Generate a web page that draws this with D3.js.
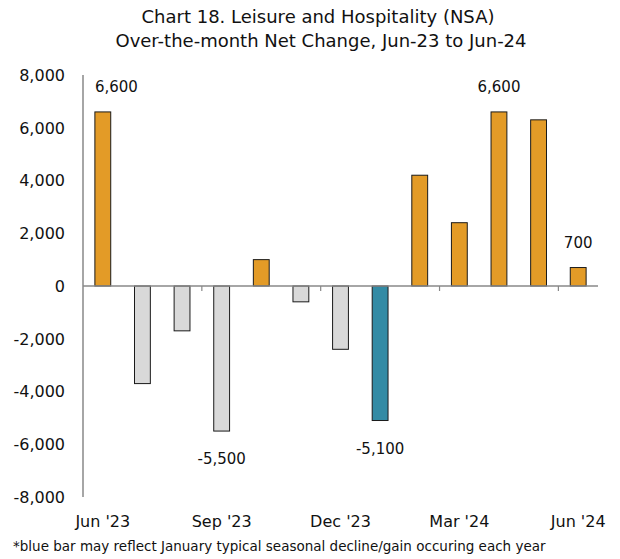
<!DOCTYPE html>
<html lang="en">
<head>
<meta charset="utf-8">
<title>Chart 18</title>
<script src="https://cdn.jsdelivr.net/npm/d3@7"></script>
<style>
  body { margin: 0; background: #fff; }
  svg text { font-family: "DejaVu Sans", sans-serif; fill: #111; }
</style>
</head>
<body>
<script>
// data
var months = ["Jun '23", "Jul '23", "Aug '23", "Sep '23", "Oct '23", "Nov '23", "Dec '23",
              "Jan '24", "Feb '24", "Mar '24", "Apr '24", "May '24", "Jun '24"];
var netChange = [6600, -3700, -1700, -5500, 1000, -600, -2400, -5100, 4200, 2400, 6600, 6300, 700];
var labelled = ["Jun '23", "Sep '23", "Jan '24", "Apr '24", "Jun '24"];
var shownTicks = ["Jun '23", "Sep '23", "Dec '23", "Mar '24", "Jun '24"];
var yTicks = [-8000, -6000, -4000, -2000, 0, 2000, 4000, 6000, 8000];
var highlight = "Jan '24";

var w = 620, h = 559;
var plotLeft = 83, plotRight = 598, plotTop = 75, plotBottom = 497;

var svg = d3.select("body").append("svg").attr("width", w).attr("height", h);

var x = d3.scaleBand().domain(months).range([plotLeft, plotRight]).paddingInner(0.6).paddingOuter(0.3);
var y = d3.scaleLinear().domain([-8000, 8000]).range([plotBottom, plotTop]);
var fmt = function(d) { return d3.format(",")(d).replace("\u2212", "-"); };

// title
svg.append("text").attr("x", 318).attr("y", 23).attr("text-anchor", "middle")
  .style("font-size", "18px").text("Chart 18. Leisure and Hospitality (NSA)");
svg.append("text").attr("x", 321).attr("y", 47).attr("text-anchor", "middle")
  .style("font-size", "18px").text("Over-the-month Net Change, Jun-23 to Jun-24");

// y axis labels
svg.append("g").selectAll("text").data(yTicks).enter().append("text")
  .attr("x", 65).attr("y", function(d) { return y(d); }).attr("dy", "0.36em")
  .attr("text-anchor", "end").style("font-size", "16px")
  .text(function(d) { return fmt(d); });

svg.append("line").attr("x1", plotLeft).attr("x2", plotLeft).attr("y1", plotTop).attr("y2", plotBottom)
  .attr("stroke", "#888").attr("stroke-width", 1.5);

// bars
svg.append("g").selectAll("rect").data(netChange).enter().append("rect")
  .attr("x", function(d, i) { return x(months[i]); })
  .attr("width", x.bandwidth())
  .attr("y", function(d) { return y(Math.max(0, d)); })
  .attr("height", function(d) { return Math.abs(y(d) - y(0)); })
  .attr("fill", function(d, i) {
    if (months[i] == highlight) return "#338BA5";
    return d >= 0 ? "#E39B27" : "#D9D9D9";
  })
  .attr("stroke", "#1a1a1a").attr("stroke-width", 1);

// zero line + ticks every quarter
svg.append("line").attr("x1", plotLeft).attr("x2", plotRight).attr("y1", y(0)).attr("y2", y(0))
  .attr("stroke", "#888").attr("stroke-width", 1.5);
var step = x.step();
svg.append("g").selectAll("line").data([3, 6, 9, 12]).enter().append("line")
  .attr("x1", function(i) { return x(months[i]) - step * 0.3; })
  .attr("x2", function(i) { return x(months[i]) - step * 0.3; })
  .attr("y1", y(0)).attr("y2", y(0) + 5)
  .attr("stroke", "#888").attr("stroke-width", 1.2);

// data labels
netChange.forEach(function(d, i) {
  if (labelled.indexOf(months[i]) < 0) return;
  var first = i == 0;
  svg.append("text")
    .attr("x", first ? x(months[i]) : x(months[i]) + x.bandwidth() / 2)
    .attr("y", d >= 0 ? y(d) - 20 : y(d) + 33)
    .attr("text-anchor", first ? "start" : "middle").style("font-size", "15px")
    .text(fmt(d));
});

// x labels
svg.append("g").selectAll("text").data(shownTicks).enter().append("text")
  .attr("x", function(d) { return x(d) + x.bandwidth() / 2; })
  .attr("y", 527).attr("text-anchor", "middle").style("font-size", "16px")
  .text(function(d) { return d; });

// footnote
svg.append("text").attr("x", 13).attr("y", 551).style("font-size", "13.5px")
  .text("*blue bar may reflect January typical seasonal decline/gain occuring each year");
</script>
</body>
</html>
